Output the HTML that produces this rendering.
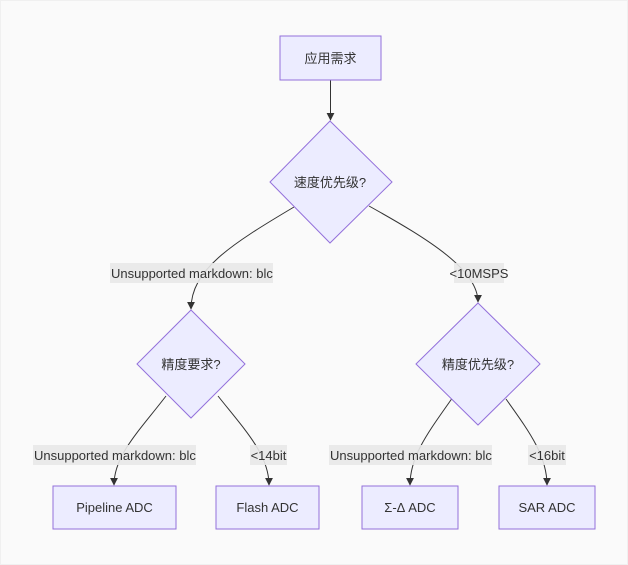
<!DOCTYPE html>
<html><head><meta charset="utf-8"><style>
html,body{margin:0;padding:0;background:#fafafa;}
svg{display:block;}
text{font-family:"Liberation Sans","Noto Sans CJK SC",sans-serif;font-size:13px;fill:#333;}
.n{fill:#ececff;stroke:#9370db;stroke-width:1;}
.e{fill:none;stroke:#333;stroke-width:1;}
.lb{fill:#e8e8e8;opacity:0.9;}
</style></head><body>
<svg width="628" height="565" viewBox="0 0 628 565" xmlns="http://www.w3.org/2000/svg">
<defs><marker id="a" viewBox="0 0 10 10" refX="9" refY="5" markerWidth="8" markerHeight="8" orient="auto"><path d="M0,0L10,5L0,10z" fill="#333"/></marker></defs>
<rect x="0.5" y="0.5" width="627" height="564" fill="#fafafa" stroke="#f0f0f0"/>
<!-- edges -->
<path class="e" d="M330.5,80 L330.5,120" marker-end="url(#a)"/>
<path class="e" d="M294,207 C230,245 191,270 191,309" marker-end="url(#a)"/>
<path class="e" d="M369,206 C430,240 478,270 478,302" marker-end="url(#a)"/>
<path class="e" d="M166,396 C140,430 114,455 114,485" marker-end="url(#a)"/>
<path class="e" d="M218,396 C245,430 269,455 269,485" marker-end="url(#a)"/>
<path class="e" d="M453,397 C430,430 410,455 410,485" marker-end="url(#a)"/>
<path class="e" d="M506,399 C528,430 547,455 547,485" marker-end="url(#a)"/>
<!-- nodes -->
<rect class="n" x="280" y="36" width="101" height="44"/>
<text x="330.5" y="63" text-anchor="middle">应用需求</text>
<polygon class="n" points="330,121 392,182 330,243 270,182"/>
<text x="330" y="187" text-anchor="middle">速度优先级?</text>
<polygon class="n" points="191,310 245,364 191,418 137,364"/>
<text x="191" y="369" text-anchor="middle">精度要求?</text>
<polygon class="n" points="478,303 540,364 478,425 416,364"/>
<text x="478" y="369" text-anchor="middle">精度优先级?</text>
<rect class="n" x="53" y="486" width="123" height="43"/>
<text x="114.5" y="512" text-anchor="middle">Pipeline ADC</text>
<rect class="n" x="216" y="486" width="103" height="43"/>
<text x="267.5" y="512" text-anchor="middle">Flash ADC</text>
<rect class="n" x="362" y="486" width="96" height="43"/>
<text x="410" y="512" text-anchor="middle">Σ-Δ ADC</text>
<rect class="n" x="499" y="486" width="96" height="43"/>
<text x="547" y="512" text-anchor="middle">SAR ADC</text>
<!-- labels -->
<rect class="lb" x="110" y="263" width="163" height="20"/>
<text x="111" y="278">Unsupported markdown: blc</text>
<rect class="lb" x="454" y="263" width="50" height="20"/>
<text x="479" y="278" text-anchor="middle">&lt;10MSPS</text>
<rect class="lb" x="33" y="445" width="163" height="20"/>
<text x="34" y="460">Unsupported markdown: blc</text>
<rect class="lb" x="250" y="445" width="37" height="20"/>
<text x="268.5" y="460" text-anchor="middle">&lt;14bit</text>
<rect class="lb" x="329" y="445" width="163" height="20"/>
<text x="330" y="460">Unsupported markdown: blc</text>
<rect class="lb" x="528" y="445" width="38" height="20"/>
<text x="547" y="460" text-anchor="middle">&lt;16bit</text>
</svg>
</body></html>
